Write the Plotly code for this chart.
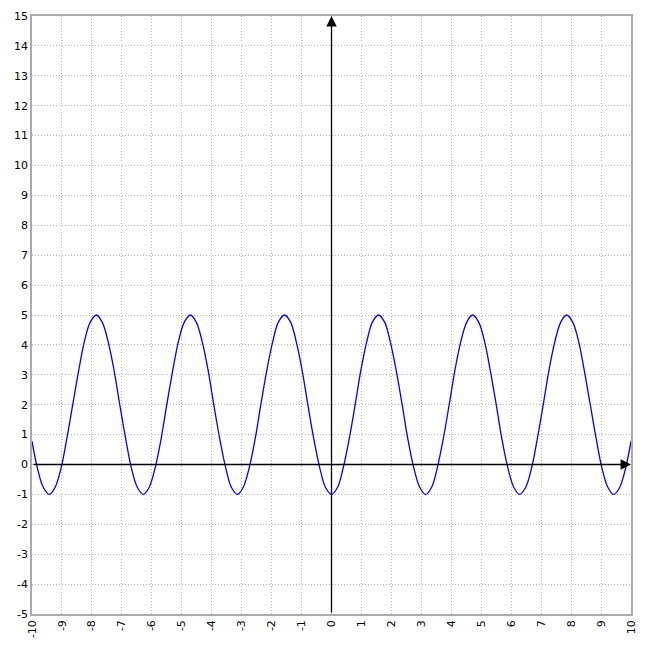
import plotly.graph_objects as go

# Curve samples (x, y)
x_values = [-10,
            -9.82, -9.62, -9.42, -9.23, -9.03, -8.84, -8.64, -8.44, -8.25, -8.05,
            -7.85, -7.66, -7.46, -7.26, -7.07, -6.87, -6.68, -6.48, -6.28, -6.09,
            -5.89, -5.69, -5.50, -5.30, -5.11, -4.91, -4.71, -4.52, -4.32, -4.12,
            -3.93, -3.73, -3.53, -3.34, -3.14, -2.95, -2.75, -2.55, -2.36, -2.16,
            -1.96, -1.77, -1.57, -1.37, -1.18, -0.98, -0.79, -0.59, -0.39, -0.20,
            0,
            0.20, 0.39, 0.59, 0.79, 0.98, 1.18, 1.37, 1.57, 1.77, 1.96,
            2.16, 2.36, 2.55, 2.75, 2.95, 3.14, 3.34, 3.53, 3.73, 3.93,
            4.12, 4.32, 4.52, 4.71, 4.91, 5.11, 5.30, 5.50, 5.69, 5.89,
            6.09, 6.28, 6.48, 6.68, 6.87, 7.07, 7.26, 7.46, 7.66, 7.85,
            8.05, 8.25, 8.44, 8.64, 8.84, 9.03, 9.23, 9.42, 9.62, 9.82,
            10]
y_values = [0.78,
            -0.12, -0.77, -1, -0.77, -0.12, 0.85, 2, 3.15, 4.12, 4.77,
            5, 4.77, 4.12, 3.15, 2, 0.85, -0.12, -0.77, -1, -0.77,
            -0.12, 0.85, 2, 3.15, 4.12, 4.77, 5, 4.77, 4.12, 3.15,
            2, 0.85, -0.12, -0.77, -1, -0.77, -0.12, 0.85, 2, 3.15,
            4.12, 4.77, 5, 4.77, 4.12, 3.15, 2, 0.85, -0.12, -0.77,
            -1,
            -0.77, -0.12, 0.85, 2, 3.15, 4.12, 4.77, 5, 4.77, 4.12,
            3.15, 2, 0.85, -0.12, -0.77, -1, -0.77, -0.12, 0.85, 2,
            3.15, 4.12, 4.77, 5, 4.77, 4.12, 3.15, 2, 0.85, -0.12,
            -0.77, -1, -0.77, -0.12, 0.85, 2, 3.15, 4.12, 4.77, 5,
            4.77, 4.12, 3.15, 2, 0.85, -0.12, -0.77, -1, -0.77, -0.12,
            0.78]

x_range = [-10, 10]
y_range = [-5, 15]
x_ticks = list(range(-10, 11))
y_ticks = list(range(-5, 16))

fig = go.Figure()
fig.add_trace(go.Scatter(x=x_values, y=y_values, mode="lines",
                         line=dict(color="#0000ff", width=1.3, shape="spline", smoothing=1.0),
                         hoverinfo="skip", showlegend=False))

# axis arrows
fig.add_annotation(x=0, y=y_range[1], ax=0, ay=y_range[0], xref="x", yref="y",
                   axref="x", ayref="y", showarrow=True, arrowhead=2, arrowsize=1.6,
                   arrowwidth=1.3, arrowcolor="black", text="")
fig.add_annotation(x=x_range[1], y=0, ax=x_range[0], ay=0, xref="x", yref="y",
                   axref="x", ayref="y", showarrow=True, arrowhead=2, arrowsize=1.6,
                   arrowwidth=1.3, arrowcolor="black", text="")

axis_common = dict(showgrid=True, gridcolor="#b4b4b4", griddash="1px,2px", gridwidth=1,
                   zeroline=False, showline=True, linecolor="#aaaaaa", linewidth=1.5,
                   mirror=True, ticks="", automargin=False,
                   tickfont=dict(family="DejaVu Sans", size=11, color="black"))

fig.update_xaxes(range=x_range, tickvals=x_ticks, ticktext=[str(t) for t in x_ticks],
                 tickangle=-90, **axis_common)
fig.update_yaxes(range=y_range, tickvals=y_ticks, ticktext=[str(t) for t in y_ticks],
                 **axis_common)

fig.update_layout(width=659, height=640, margin=dict(l=24, r=36, t=8, b=34),
                  plot_bgcolor="white", paper_bgcolor="white", showlegend=False)

fig.write_html("out.html")
